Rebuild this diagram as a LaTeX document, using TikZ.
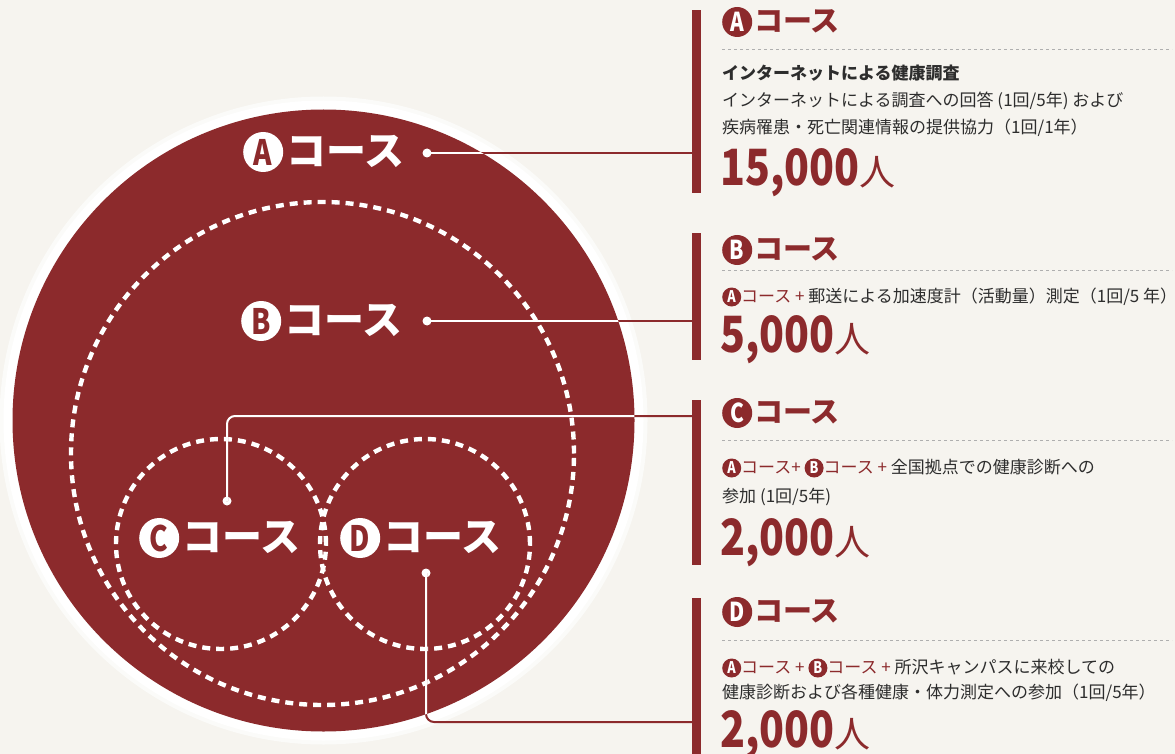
\documentclass[tikz,border=0pt]{standalone}
\usepackage{fontspec}
\usepackage{graphicx}
\setmainfont{Noto Sans CJK JP}
\definecolor{cred}{RGB}{140,42,44}
\definecolor{bgc}{RGB}{246,244,239}
\definecolor{bodyc}{RGB}{45,45,45}
\definecolor{sepc}{RGB}{175,175,175}
\newcommand\bdg[5]{\tikz[baseline=(bdgx.base)]\node[circle,fill=#1,text=#2,minimum size=#3,inner sep=0pt](bdgx){\fontsize{#5}{#5}\selectfont\bfseries\scalebox{0.8}[1]{#4}};}
\newcommand\bignum[1]{{\fontsize{50}{52}\selectfont\bfseries\scalebox{0.82}[1]{#1}}{\fontsize{36}{40}\selectfont 人}}
\begin{document}
\begin{tikzpicture}[x=1pt,y=-1pt,
  dashc/.style={draw=white,line width=4.4pt,dash pattern=on 8pt off 6pt},
  barn/.style={fill=cred,inner sep=0pt,minimum width=9pt,anchor=north west},
  dotn/.style={circle,fill=white,inner sep=0pt,minimum size=9pt},
  conn/.style={line width=2pt,rounded corners=8pt},
  lbl/.style={anchor=west,text=white,font=\fontsize{40}{44}\selectfont\bfseries,inner sep=0pt},
  head/.style={anchor=west,text=cred,font=\fontsize{29}{32}\selectfont\bfseries,inner sep=0pt},
  bodyt/.style={anchor=west,text=bodyc,font=\fontsize{17}{20}\selectfont,inner sep=0pt},
  num/.style={anchor=west,text=cred,inner sep=0pt},
  sepl/.style={draw=sepc,line width=0.9pt,dash pattern=on 3pt off 3pt}]
\fill[bgc] (0,0) rectangle (1175,754);
\useasboundingbox (0,0) rectangle (1175,754);
% big circle with white halo
\fill[white!60!bgc] (323.5,420.5) circle[radius=324pt];
\fill[white] (323.5,420.5) circle[radius=320pt];
\fill[cred] (323.5,420.5) circle[radius=311pt];
% dashed circles
\draw[dashc] (322.5,453.5) circle[radius=251.5pt];
\draw[dashc] (221,544) circle[radius=105pt];
\draw[dashc] (425,544) circle[radius=105pt];
% bars
\node[barn,minimum height=183pt] (barA) at (692,10) {};
\node[barn,minimum height=127pt] (barB) at (692,233) {};
\node[barn,minimum height=165pt] (barC) at (692,400) {};
\node[barn,minimum height=160pt] (barD) at (692,598) {};
% connector ends
\coordinate (eA) at (692,153);
\coordinate (eB) at (692,321);
\coordinate (eC) at (692,416);
\coordinate (eD) at (692,722);
% dots
\node[dotn] (dA) at (427,153) {};
\node[dotn] (dB) at (427,321) {};
\node[dotn] (dC) at (227,501) {};
\node[dotn] (dD) at (426,573) {};
% connectors (red outside, white inside)
\draw[conn,cred] (dA.center) -- (eA);
\draw[conn,cred] (dB.center) -- (eB);
\draw[conn,cred] (dC.center) |- (eC);
\draw[conn,cred] (dD.center) |- (eD);
\begin{scope}
\clip (323.5,420.5) circle[radius=311pt];
\draw[conn,white] (dA.center) -- (eA);
\draw[conn,white] (dB.center) -- (eB);
\draw[conn,white] (dC.center) |- (eC);
\draw[conn,white] (dD.center) |- (eD);
\end{scope}
% circle labels
\node[lbl] (lA) at (243,152) {\bdg{white}{cred}{40pt}{A}{35}\hspace{3pt}コース};
\node[lbl] (lB) at (241,321) {\bdg{white}{cred}{40pt}{B}{35}\hspace{3pt}コース};
\node[lbl] (lC) at (139,538) {\bdg{white}{cred}{40pt}{C}{35}\hspace{3pt}コース};
\node[lbl] (lD) at (340,538) {\bdg{white}{cred}{40pt}{D}{35}\hspace{3pt}コース};
% right panel A
\node[head] (hA) at (722,22) {\bdg{cred}{white}{30pt}{A}{26}\hspace{2pt}コース};
\draw[sepl] (722,49) -- (1172,49);
\node[bodyt,font=\fontsize{17}{20}\selectfont\bfseries] (tA1) at (722,73) {インターネットによる健康調査};
\node[bodyt] (tA2) at (722,101) {インターネットによる調査への回答 (1回/5年) および};
\node[bodyt] (tA3) at (722,128) {疾病罹患・死亡関連情報の提供協力（1回/1年）};
\node[num] (nA) at (720,173) {\bignum{15,000}};
% B
\node[head] (hB) at (722,250) {\bdg{cred}{white}{30pt}{B}{26}\hspace{2pt}コース};
\draw[sepl] (722,270) -- (1172,270);
\node[bodyt] (tB1) at (722,297) {\bdg{cred}{white}{19pt}{A}{16}\textcolor{cred}{コース +} 郵送による加速度計（活動量）測定（1回/5 年）};
\node[num] (nB) at (720,340) {\bignum{5,000}};
% C
\node[head] (hC) at (722,413) {\bdg{cred}{white}{30pt}{C}{26}\hspace{2pt}コース};
\draw[sepl] (722,440) -- (1172,440);
\node[bodyt] (tC1) at (722,468) {\bdg{cred}{white}{19pt}{A}{16}\textcolor{cred}{コース+} \bdg{cred}{white}{19pt}{B}{16}\textcolor{cred}{コース +} 全国拠点での健康診断への};
\node[bodyt] (tC2) at (722,497) {参加 (1回/5年)};
\node[num] (nC) at (720,543) {\bignum{2,000}};
% D
\node[head] (hD) at (722,612) {\bdg{cred}{white}{30pt}{D}{26}\hspace{2pt}コース};
\draw[sepl] (722,640) -- (1172,640);
\node[bodyt] (tD1) at (722,668) {\bdg{cred}{white}{19pt}{A}{16}\textcolor{cred}{コース +} \bdg{cred}{white}{19pt}{B}{16}\textcolor{cred}{コース +} 所沢キャンパスに来校しての};
\node[bodyt] (tD2) at (722,693) {健康診断および各種健康・体力測定への参加（1回/5年）};
\node[num] (nD) at (720,735) {\bignum{2,000}};
\end{tikzpicture}
\end{document}
